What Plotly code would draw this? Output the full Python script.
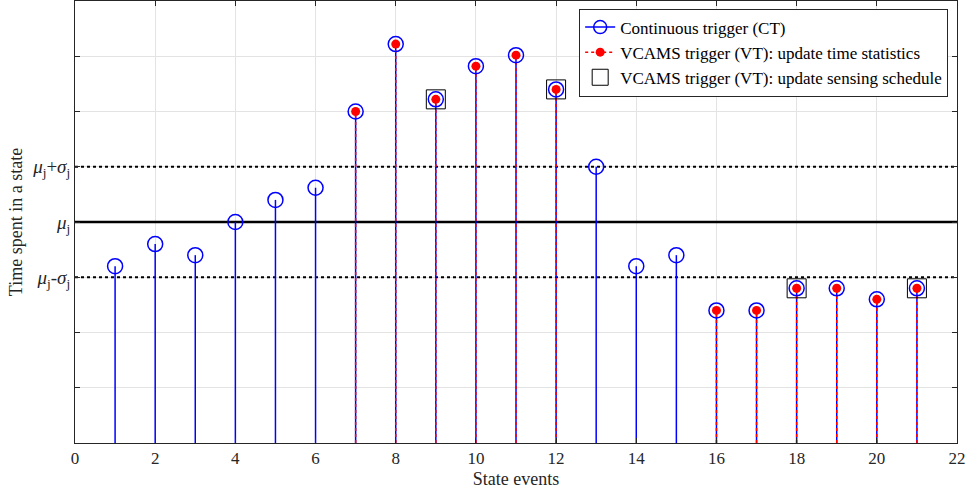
import plotly.graph_objects as go

events = list(range(1, 22))
times = [3.2, 3.6, 3.4, 4.0, 4.4, 4.62, 6.0, 7.22, 6.22, 6.82, 7.02, 6.4,
         5.0, 3.2, 3.4, 2.4, 2.4, 2.8, 2.8, 2.6, 2.8]
vt_events = [7, 8, 9, 10, 11, 12, 16, 17, 18, 19, 20, 21]
schedule_events = [9, 12, 18, 21]
mu = 4.0
sigma = 1.0
x_ticks = list(range(0, 23, 2))
y_tickvals = list(range(0, 9))
y_ticktext = ["", "", "",
              "<i>μ</i><sub>j</sub>-<i>σ</i><sub>j</sub>",
              "<i>μ</i><sub>j</sub>",
              "<i>μ</i><sub>j</sub>+<i>σ</i><sub>j</sub>",
              "", "", ""]

val = dict(zip(events, times))

def stems(xs):
    sx, sy = [], []
    for x in xs:
        sx += [x, x, None]
        sy += [0, val[x], None]
    return sx, sy

FONT = "Liberation Serif"
BLUE = "#0000ff"
RED = "#ff0000"

fig = go.Figure()

# reference lines
fig.add_trace(go.Scatter(x=[0, 22], y=[mu, mu], mode="lines",
                         line=dict(color="black", width=2.5), showlegend=False, hoverinfo="skip"))
for yy in (mu - sigma, mu + sigma):
    fig.add_trace(go.Scatter(x=[0, 22], y=[yy, yy], mode="lines",
                             line=dict(color="black", width=2.2, dash="dot"), showlegend=False, hoverinfo="skip"))

# CT stems
sx, sy = stems(events)
fig.add_trace(go.Scatter(x=sx, y=sy, mode="lines", line=dict(color=BLUE, width=1.5),
                         showlegend=False, hoverinfo="skip"))
# VT stems (red dotted overlay)
vx, vy = stems(vt_events)
fig.add_trace(go.Scatter(x=vx, y=vy, mode="lines", line=dict(color=RED, width=1.5, dash="dot"),
                         showlegend=False, hoverinfo="skip"))
# CT markers
fig.add_trace(go.Scatter(x=events, y=times, mode="markers",
                         marker=dict(symbol="circle-open", size=15, color=BLUE, line=dict(width=1.5)),
                         showlegend=False))
# VT markers
fig.add_trace(go.Scatter(x=vt_events, y=[val[e] for e in vt_events], mode="markers",
                         marker=dict(symbol="circle", size=9, color=RED),
                         showlegend=False))
# schedule squares
fig.add_trace(go.Scatter(x=schedule_events, y=[val[e] for e in schedule_events], mode="markers",
                         marker=dict(symbol="square-open", size=19, color="black", line=dict(width=1)),
                         showlegend=False))

# legend entries
fig.add_trace(go.Scatter(x=[None], y=[None], mode="lines+markers", name="Continuous trigger (CT)",
                         line=dict(color=BLUE, width=1.5),
                         marker=dict(symbol="circle-open", size=13, color=BLUE, line=dict(width=1.5))))
fig.add_trace(go.Scatter(x=[None], y=[None], mode="lines+markers",
                         name="VCAMS trigger (VT): update time statistics",
                         line=dict(color=RED, width=1.5, dash="dot"),
                         marker=dict(symbol="circle", size=9, color=RED)))
fig.add_trace(go.Scatter(x=[None], y=[None], mode="markers",
                         name="VCAMS trigger (VT): update sensing schedule",
                         marker=dict(symbol="square-open", size=19, color="black", line=dict(width=1))))

axis_common = dict(showline=True, linecolor="#262626", linewidth=1, mirror="allticks",
                   ticks="inside", ticklen=5, tickcolor="#262626",
                   showgrid=True, gridcolor="#e3e3e3", gridwidth=1, zeroline=False)

fig.update_layout(
    width=968, height=496,
    margin=dict(l=75, r=11, t=1, b=53),
    plot_bgcolor="white", paper_bgcolor="white",
    font=dict(family=FONT, size=17, color="#262626"),
    xaxis=dict(range=[0, 22], tickvals=x_ticks, ticktext=[str(t) for t in x_ticks],
               tickfont=dict(family=FONT, size=17, color="#262626"),
               title=dict(text="State events", font=dict(family=FONT, size=18, color="#262626"), standoff=4),
               **axis_common),
    yaxis=dict(range=[0, 8], tickvals=y_tickvals, ticktext=y_ticktext,
               tickfont=dict(family=FONT, size=19, color="#262626"),
               title=dict(text="Time spent in a state", font=dict(family=FONT, size=18, color="#262626"), standoff=4),
               **axis_common),
    legend=dict(x=0.99, y=0.983, xanchor="right", yanchor="top",
                bgcolor="white", bordercolor="#262626", borderwidth=1,
                font=dict(family=FONT, size=17, color="black"),
                tracegroupgap=0, itemwidth=30),
    showlegend=True,
)

fig.write_html("out.html")
